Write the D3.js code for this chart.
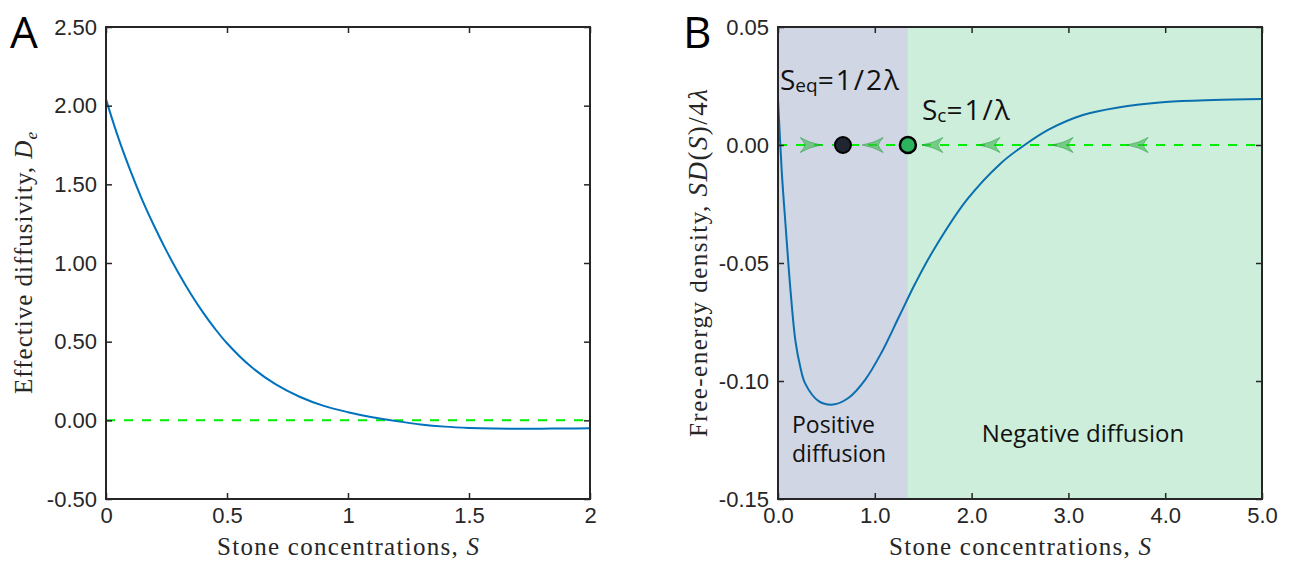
<!DOCTYPE html>
<html>
<head>
<meta charset="utf-8">
<script src="https://cdn.jsdelivr.net/npm/d3@7"></script>
<style>
  body { margin: 0; background: #fff; }
  .tick text { font-family: "Liberation Sans", Arial, sans-serif; font-size: 22px; fill: #262626; }
  .tick line { stroke: #262626; stroke-width: 1.5; }
</style>
</head>
<body>
<svg width="1293" height="567"></svg>
<script>
// panel A: effective diffusivity vs stone concentration
const sA = [0, 0.05, 0.1, 0.15, 0.2, 0.25, 0.3, 0.35, 0.4, 0.45, 0.5, 0.6, 0.7, 0.8, 0.9, 1.0, 1.1, 1.2, 1.3, 1.4, 1.5, 1.6, 1.7, 1.8, 1.9, 2.0];
const dA = [2.04, 1.80, 1.59, 1.40, 1.232, 1.077, 0.935, 0.805, 0.688, 0.583, 0.49, 0.34, 0.23, 0.15, 0.092, 0.052, 0.020, -0.005, -0.026, -0.040, -0.048, -0.052, -0.053, -0.053, -0.052, -0.051];
const xTicksA = [0, 0.5, 1, 1.5, 2];
const yTicksA = [-0.5, 0, 0.5, 1, 1.5, 2, 2.5];

// panel B: free-energy density
const sB = [0, 0.04, 0.08, 0.13, 0.18, 0.23, 0.28, 0.42, 0.57, 0.73, 0.9, 1.07, 1.25, 1.42, 1.6, 1.95, 2.3, 2.54, 2.8, 3.15, 3.5, 4.0, 4.5, 5.0];
const fB = [0.0195, -0.012, -0.035, -0.062, -0.083, -0.094, -0.101, -0.1085, -0.110, -0.1071, -0.0995, -0.0879, -0.0728, -0.0585, -0.045, -0.0233, -0.0078, -0.0002, 0.0066, 0.0127, 0.0158, 0.0182, 0.0191, 0.0195];
const xTicksB = [0, 1, 2, 3, 4, 5];
const yTicksB = [-0.15, -0.1, -0.05, 0, 0.05];

const sEq = 0.671;   // S_eq = 1/2λ
const sC = 1.342;    // S_c = 1/λ
const arrowS = [0.333, 0.983, 1.60, 2.19, 2.945, 3.72];
const arrowDir = [1, -1, -1, -1, -1, -1];

const svg = d3.select("svg");
const plotTop = 27, plotBottom = 499;
const ink = "#262626";
const lime = "#00ee00";
const serif = "Liberation Serif, serif";

function panel(left, right, xDom, yDom, xTicks, yTicks, xFmt, yFmt) {
  const x = d3.scaleLinear().domain(xDom).range([left, right]);
  const y = d3.scaleLinear().domain(yDom).range([plotBottom, plotTop]);
  return { x, y, left, right, xTicks, yTicks, xFmt, yFmt };
}

function drawAxes(p) {
  const g = svg.append("g");
  g.append("g").attr("transform", `translate(0,${plotBottom})`)
    .call(d3.axisBottom(p.x).tickValues(p.xTicks).tickFormat(p.xFmt).tickSize(-6).tickPadding(8))
    .call(a => a.select(".domain").remove());
  g.append("g").attr("transform", `translate(0,${plotTop})`)
    .call(d3.axisTop(p.x).tickValues(p.xTicks).tickFormat("").tickSize(-6))
    .call(a => a.select(".domain").remove());
  g.append("g").attr("transform", `translate(${p.left},0)`)
    .call(d3.axisLeft(p.y).tickValues(p.yTicks).tickFormat(p.yFmt).tickSize(-6).tickPadding(9))
    .call(a => a.select(".domain").remove());
  g.append("g").attr("transform", `translate(${p.right},0)`)
    .call(d3.axisRight(p.y).tickValues(p.yTicks).tickFormat("").tickSize(-6))
    .call(a => a.select(".domain").remove());
  g.selectAll(".tick text").attr("fill", ink);
  g.append("rect")
    .attr("x", p.left).attr("y", plotTop)
    .attr("width", p.right - p.left).attr("height", plotBottom - plotTop)
    .attr("fill", "none").attr("stroke", ink).attr("stroke-width", 2);
}

function xLabel(p) {
  const t = svg.append("text")
    .attr("x", (p.left + p.right) / 2).attr("y", 555)
    .attr("text-anchor", "middle")
    .attr("textLength", 262).attr("lengthAdjust", "spacing")
    .attr("font-family", serif).attr("font-size", 25).attr("fill", ink);
  t.append("tspan").text("Stone concentrations, ");
  t.append("tspan").attr("font-style", "italic").text("S");
}

const smooth = d3.curveCatmullRom.alpha(0.5);

// ---------- panel A ----------
const pA = panel(106, 590, [0, 2], [-0.5, 2.5], xTicksA, yTicksA, d => String(d), d => d.toFixed(2));

svg.append("line")
  .attr("x1", pA.x(0)).attr("x2", pA.x(2))
  .attr("y1", pA.y(0)).attr("y2", pA.y(0))
  .attr("stroke", lime).attr("stroke-width", 2).attr("stroke-dasharray", "9,9");

svg.append("path")
  .datum(sA.map((s, i) => [s, dA[i]]))
  .attr("fill", "none").attr("stroke", "#0072bd").attr("stroke-width", 2)
  .attr("d", d3.line().x(d => pA.x(d[0])).y(d => pA.y(d[1])).curve(smooth));

drawAxes(pA);
xLabel(pA);

const yA = svg.append("text")
  .attr("transform", `translate(32,${(plotTop + plotBottom) / 2}) rotate(-90)`)
  .attr("text-anchor", "middle")
  .attr("textLength", 262).attr("lengthAdjust", "spacing")
  .attr("font-family", serif).attr("font-size", 25).attr("fill", ink);
yA.append("tspan").text("Effective diffusivity, ");
yA.append("tspan").attr("font-style", "italic").text("D");
yA.append("tspan").attr("font-style", "italic").attr("font-size", 17).attr("dy", 5).text("e");

svg.append("text").attr("x", 10).attr("y", 48)
  .attr("font-family", "Open Sans, sans-serif").attr("font-size", 44).attr("fill", "#000").text("A");

// ---------- panel B ----------
const pB = panel(778, 1262, [0, 5], [-0.15, 0.05], xTicksB, yTicksB, d => d.toFixed(1), d => d.toFixed(2));

svg.append("rect")
  .attr("x", pB.x(0)).attr("y", plotTop)
  .attr("width", pB.x(sC) - pB.x(0)).attr("height", plotBottom - plotTop)
  .attr("fill", "#d0d6e3");
svg.append("rect")
  .attr("x", pB.x(sC)).attr("y", plotTop)
  .attr("width", pB.x(5) - pB.x(sC)).attr("height", plotBottom - plotTop)
  .attr("fill", "#cdeedb");

svg.append("line")
  .attr("x1", pB.x(0)).attr("x2", pB.x(5))
  .attr("y1", pB.y(0)).attr("y2", pB.y(0))
  .attr("stroke", lime).attr("stroke-width", 2).attr("stroke-dasharray", "9,9");

svg.append("path")
  .datum(sB.map((s, i) => [s, fB[i]]))
  .attr("fill", "none").attr("stroke", "#0a6fae").attr("stroke-width", 2)
  .attr("d", d3.line().x(d => pB.x(d[0])).y(d => pB.y(d[1])).curve(smooth));

// flow arrows along the zero line
svg.append("g").selectAll("path")
  .data(arrowS.map((s, i) => [s, arrowDir[i]]))
  .join("path")
  .attr("transform", d => `translate(${pB.x(d[0])},${pB.y(0)}) scale(${d[1]},1)`)
  .attr("d", "M11,0 Q-1,-2 -10,-7.5 Q-6,-3 -5,0 Q-6,3 -10,7.5 Q-1,2 11,0 Z")
  .attr("fill", "#3cb44b").attr("fill-opacity", 0.6)
  .attr("stroke", "#2f9e48").attr("stroke-opacity", 0.6).attr("stroke-width", 1);

svg.append("circle").attr("cx", pB.x(sEq)).attr("cy", pB.y(0)).attr("r", 8)
  .attr("fill", "#1f2531").attr("stroke", "#000").attr("stroke-width", 2);
svg.append("circle").attr("cx", pB.x(sC)).attr("cy", pB.y(0)).attr("r", 8)
  .attr("fill", "#2bb35e").attr("stroke", "#000").attr("stroke-width", 2.5);

drawAxes(pB);
xLabel(pB);

const yB = svg.append("text")
  .attr("transform", `translate(707,${(plotTop + plotBottom) / 2}) rotate(-90)`)
  .attr("text-anchor", "middle")
  .attr("textLength", 348).attr("lengthAdjust", "spacing")
  .attr("font-family", serif).attr("font-size", 25).attr("fill", ink);
yB.append("tspan").text("Free-energy density, ");
yB.append("tspan").attr("font-style", "italic").attr("font-size", 27).text("SD");
yB.append("tspan").attr("font-size", 27).text("(");
yB.append("tspan").attr("font-style", "italic").attr("font-size", 27).text("S");
yB.append("tspan").attr("font-size", 27).text(")/4");
yB.append("tspan").attr("font-style", "italic").attr("font-size", 27).text("λ");

svg.append("text").attr("x", 683).attr("y", 48)
  .attr("font-family", "Open Sans, sans-serif").attr("font-size", 44).attr("fill", "#000").text("B");

const ann = "Open Sans, sans-serif";
const t1 = svg.append("text").attr("x", 780).attr("y", 90)
  .attr("font-family", ann).attr("font-size", 28).attr("fill", "#111");
t1.append("tspan").text("S");
t1.append("tspan").attr("font-size", 19).attr("dy", 2).text("eq");
t1.append("tspan").attr("dy", -2).attr("letter-spacing", 2).text("=1/2λ");

const t2 = svg.append("text").attr("x", 922).attr("y", 120)
  .attr("font-family", ann).attr("font-size", 28).attr("fill", "#111");
t2.append("tspan").text("S");
t2.append("tspan").attr("font-size", 19).attr("dy", 2).text("c");
t2.append("tspan").attr("dy", -2).attr("letter-spacing", 2).text("=1/λ");

svg.append("text").attr("x", 792).attr("y", 433)
  .attr("font-family", ann).attr("font-size", 23).attr("fill", "#111").text("Positive");
svg.append("text").attr("x", 792).attr("y", 462)
  .attr("font-family", ann).attr("font-size", 23).attr("fill", "#111").text("diffusion");
svg.append("text").attr("x", 1083).attr("y", 442).attr("text-anchor", "middle")
  .attr("font-family", ann).attr("font-size", 24).attr("fill", "#111").text("Negative diffusion");
</script>
</body>
</html>
